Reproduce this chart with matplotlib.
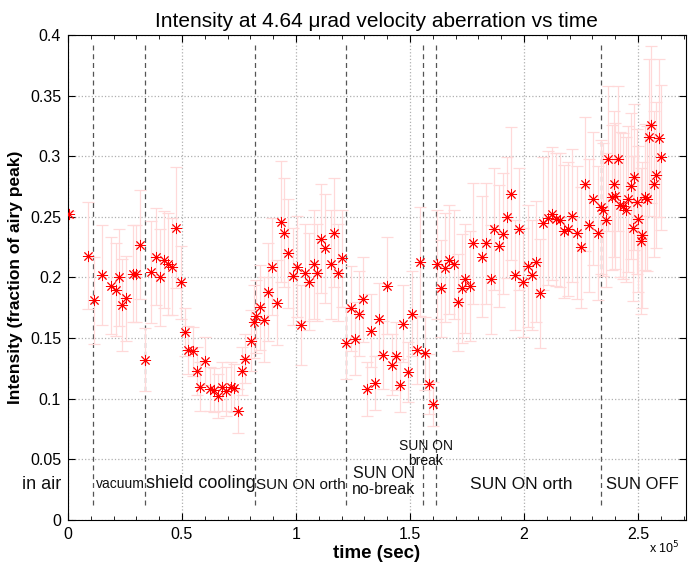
import matplotlib
matplotlib.use("Agg")
import matplotlib.pyplot as plt
from matplotlib.ticker import FuncFormatter, MultipleLocator

plt.rcParams["font.family"] = ["Liberation Sans", "DejaVu Sans"]

# time in units of 1e5 s, intensity as fraction of airy peak, symmetric error
time_e5 = [0.003, 0.086, 0.113, 0.150, 0.187, 0.210, 0.225, 0.238, 0.256, 0.286,
           0.298, 0.316, 0.339, 0.365, 0.385, 0.404, 0.421, 0.439, 0.457, 0.476,
           0.494, 0.513, 0.528, 0.548, 0.566, 0.579, 0.601, 0.624, 0.639, 0.656,
           0.677, 0.693, 0.715, 0.729, 0.747, 0.765, 0.776, 0.801, 0.817, 0.825,
           0.842, 0.862, 0.876, 0.896, 0.915, 0.933, 0.949, 0.966, 0.987, 1.004,
           1.022, 1.039, 1.058, 1.077, 1.093, 1.111, 1.129, 1.152, 1.168, 1.186,
           1.204, 1.219, 1.241, 1.257, 1.278, 1.292, 1.310, 1.328, 1.348, 1.365,
           1.383, 1.400, 1.420, 1.439, 1.456, 1.471, 1.493, 1.509, 1.529, 1.544,
           1.566, 1.585, 1.602, 1.617, 1.636, 1.654, 1.672, 1.693, 1.711, 1.727,
           1.741, 1.763, 1.778, 1.814, 1.832, 1.854, 1.868, 1.889, 1.907, 1.924,
           1.944, 1.962, 1.978, 1.998, 2.018, 2.035, 2.051, 2.070, 2.085, 2.105,
           2.124, 2.140, 2.158, 2.174, 2.193, 2.210, 2.232, 2.249, 2.266, 2.286,
           2.303, 2.323, 2.338, 2.346, 2.358, 2.370, 2.387, 2.393, 2.400, 2.412,
           2.423, 2.433, 2.447, 2.458, 2.469, 2.477, 2.484, 2.494, 2.502, 2.512,
           2.518, 2.532, 2.540, 2.548, 2.558, 2.570, 2.580, 2.593, 2.603]
intensity = [0.252, 0.218, 0.181, 0.202, 0.193, 0.190, 0.200, 0.177, 0.183, 0.203,
             0.203, 0.227, 0.132, 0.2045, 0.217, 0.200, 0.2145, 0.211, 0.209, 0.241,
             0.196, 0.155, 0.140, 0.139, 0.123, 0.110, 0.131, 0.108, 0.107, 0.102,
             0.110, 0.106, 0.110, 0.109, 0.090, 0.123, 0.133, 0.148, 0.1635, 0.168,
             0.1755, 0.165, 0.188, 0.209, 0.179, 0.246, 0.237, 0.220, 0.201, 0.209,
             0.161, 0.204, 0.1965, 0.211, 0.204, 0.232, 0.224, 0.211, 0.237, 0.204,
             0.216, 0.146, 0.1745, 0.1495, 0.170, 0.182, 0.108, 0.156, 0.113, 0.1655,
             0.136, 0.193, 0.128, 0.1355, 0.111, 0.162, 0.122, 0.170, 0.140, 0.213,
             0.1375, 0.112, 0.0955, 0.211, 0.191, 0.208, 0.2145, 0.211, 0.1795, 0.191,
             0.199, 0.193, 0.228, 0.217, 0.228, 0.1985, 0.240, 0.226, 0.236, 0.2495,
             0.269, 0.202, 0.240, 0.196, 0.2095, 0.202, 0.213, 0.187, 0.2445, 0.249,
             0.2525, 0.248, 0.2475, 0.238, 0.240, 0.251, 0.237, 0.225, 0.277, 0.243,
             0.265, 0.2365, 0.258, 0.256, 0.2475, 0.298, 0.266, 0.277, 0.267, 0.298,
             0.260, 0.259, 0.256, 0.2645, 0.2755, 0.2405, 0.283, 0.2625, 0.248, 0.230,
             0.235, 0.2665, 0.265, 0.3155, 0.326, 0.277, 0.2845, 0.315, 0.299]
error = [0.003, 0.044, 0.036, 0.041, 0.040, 0.038, 0.040, 0.038, 0.035, 0.040,
         0.040, 0.045, 0.026, 0.042, 0.040, 0.040, 0.040, 0.042, 0.040, 0.050,
         0.030, 0.020, 0.020, 0.020, 0.020, 0.020, 0.020, 0.018, 0.018, 0.018,
         0.020, 0.020, 0.020, 0.020, 0.018, 0.020, 0.020, 0.025, 0.030, 0.030,
         0.035, 0.035, 0.040, 0.040, 0.035, 0.050, 0.045, 0.045, 0.040, 0.042,
         0.033, 0.040, 0.040, 0.045, 0.040, 0.045, 0.045, 0.045, 0.045, 0.040,
         0.040, 0.030, 0.035, 0.030, 0.035, 0.035, 0.022, 0.030, 0.022, 0.030,
         0.028, 0.040, 0.025, 0.028, 0.022, 0.032, 0.025, 0.035, 0.028, 0.045,
         0.030, 0.025, 0.018, 0.045, 0.040, 0.045, 0.045, 0.045, 0.040, 0.045,
         0.045, 0.045, 0.050, 0.050, 0.050, 0.045, 0.050, 0.050, 0.050, 0.050,
         0.055, 0.045, 0.050, 0.045, 0.050, 0.045, 0.050, 0.045, 0.055, 0.055,
         0.055, 0.055, 0.055, 0.055, 0.055, 0.055, 0.055, 0.050, 0.055, 0.055,
         0.055, 0.055, 0.055, 0.055, 0.055, 0.060, 0.060, 0.060, 0.060, 0.060,
         0.060, 0.060, 0.060, 0.060, 0.060, 0.060, 0.060, 0.060, 0.060, 0.060,
         0.060, 0.060, 0.060, 0.065, 0.065, 0.060, 0.060, 0.065, 0.060]
time_sec = [t * 1e5 for t in time_e5]

# phase boundaries (sec) and phase labels
boundaries = [0.11e5, 0.338e5, 0.82e5, 1.219e5, 1.557e5, 1.614e5, 2.338e5]
phase_labels = ["in air", "vacuum", "shield cooling", "SUN ON orth",
                "SUN ON\nno-break", "SUN ON\nbreak", "SUN ON orth", "SUN OFF"]
phase_x = [-0.114e5, 0.228e5, 0.583e5, 1.02e5, 1.386e5, 1.57e5, 1.987e5, 2.52e5]
phase_y = [0.029, 0.030, 0.030, 0.029, 0.032, 0.055, 0.029, 0.029]
phase_size = [13, 10, 13, 11, 11.5, 10, 12.5, 12]

fig = plt.figure(figsize=(6.88, 5.66), dpi=100)
ax = fig.add_axes([0.0988, 0.0813, 0.898, 0.857])

ax.errorbar(time_sec, intensity, yerr=error, fmt="none", ecolor="#ffd9d9",
            elinewidth=0.9, capsize=4, capthick=0.9, zorder=2)
ax.plot(time_sec, intensity, linestyle="none", marker=(8, 2, 0), color="red",
        markersize=8, markeredgewidth=0.65, zorder=3)

for b in boundaries:
    ax.plot([b, b], [0.012, 0.393], linestyle=(0, (4, 3)), color="#555555",
            linewidth=0.9, zorder=1)

for lab, px, py, fs in zip(phase_labels, phase_x, phase_y, phase_size):
    ax.text(px, py, lab, ha="center", va="center", fontsize=fs, color="#111111",
            linespacing=1.1, clip_on=False)

ax.set_xlim(0, 2.71e5)
ax.set_ylim(0, 0.4)
ax.xaxis.set_major_locator(MultipleLocator(0.5e5))
ax.xaxis.set_minor_locator(MultipleLocator(0.1e5))
ax.yaxis.set_major_locator(MultipleLocator(0.05))
ax.xaxis.set_major_formatter(FuncFormatter(lambda v, p: f"{v / 1e5:g}"))
ax.yaxis.set_major_formatter(FuncFormatter(lambda v, p: f"{v:g}"))
ax.tick_params(which="both", direction="in", top=True, right=True, labelsize=11.5)
ax.tick_params(which="major", length=5, pad=5)
ax.tick_params(which="minor", length=3)
ax.grid(True, which="major", linestyle=":", color="#b0b0b0", linewidth=0.9)
for s in ax.spines.values():
    s.set_linewidth(0.8)

ax.set_title("Intensity at 4.64 \u03bcrad velocity aberration vs time", fontsize=15, pad=6)
ax.set_xlabel("time (sec)", fontsize=13.5, fontweight="bold", labelpad=2)
ax.set_ylabel("Intensity (fraction of airy peak)", fontsize=12.5, fontweight="bold", labelpad=5)
fig.text(0.965, 0.031, r"x 10$^5$", fontsize=9, ha="center", va="center")

fig.savefig("out.png", dpi=100)
